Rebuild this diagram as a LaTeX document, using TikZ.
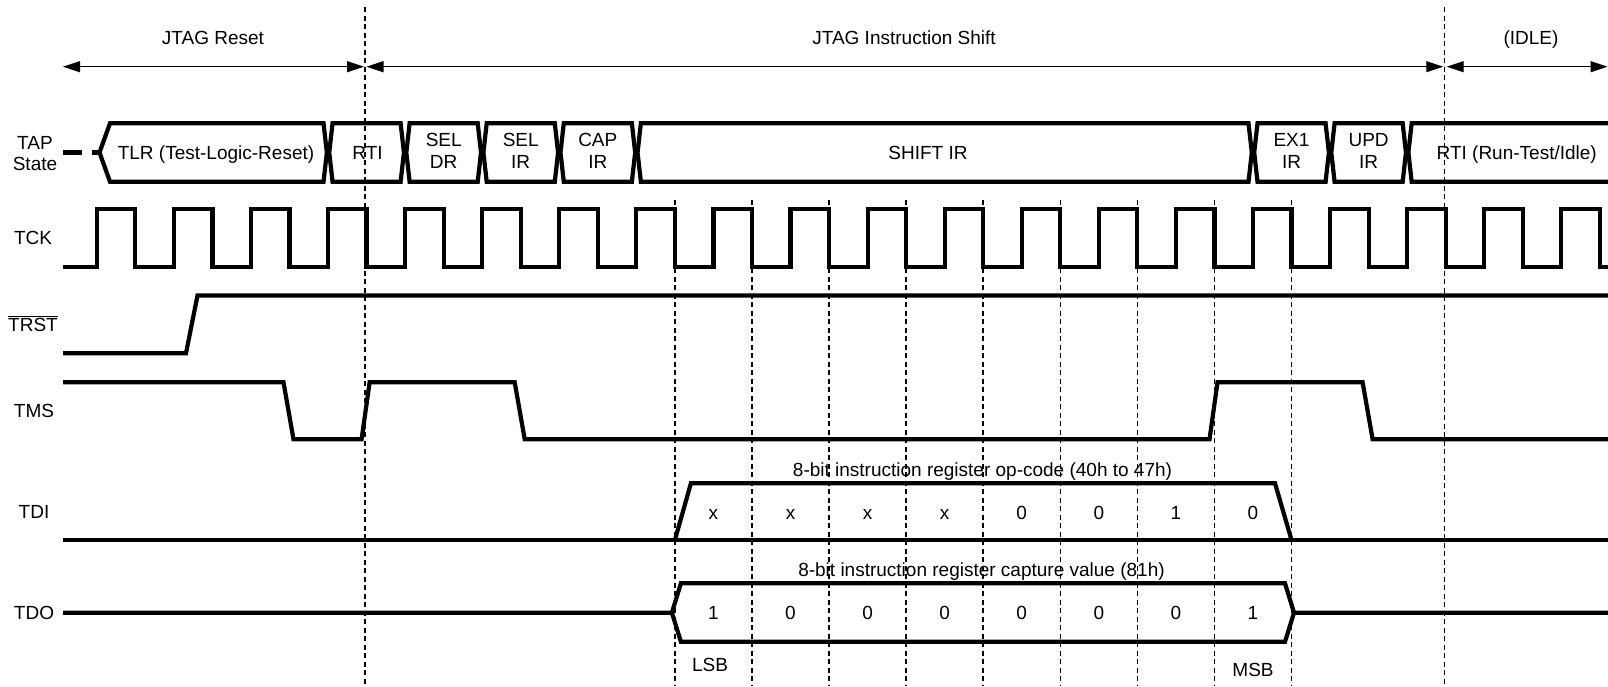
\documentclass[tikz,border=0pt]{standalone}
\usepackage{fontspec}
\setmainfont{Liberation Sans}
\usetikzlibrary{arrows.meta}
\begin{document}
\begin{tikzpicture}[x=1pt,y=-1pt,
  sig/.style={line width=4.2pt, line join=miter, miter limit=2},
  gridline/.style={line width=1.5pt, dash pattern=on 5pt off 3.5pt},
  span/.style={line width=1.3pt, {Triangle[length=17pt,width=11pt]}-{Triangle[length=17pt,width=11pt]}},
  lbl/.style={inner sep=0pt, text height=13.7pt, text depth=0pt},
  lbltwo/.style={inner sep=0pt, align=center},
  every node/.style={font=\fontsize{19pt}{21.5pt}\selectfont}]
\useasboundingbox (0,0) rectangle (1608,686);

% ---- phase arrows ----
\coordinate (a1l) at (63,66.7);   \coordinate (a1r) at (364,66.7);
\coordinate (a2l) at (366.5,66.7); \coordinate (a2r) at (1443.3,66.7);
\coordinate (a3l) at (1446.7,66.7); \coordinate (a3r) at (1607.5,66.7);
\draw[span] (a1l) -- (a1r);
\draw[span] (a2l) -- (a2r);
\draw[span] (a3l) -- (a3r);
\node[lbl] (hreset) at (213,38) {JTAG Reset};
\node[lbl] (hshift) at (904,38) {JTAG Instruction Shift};
\node[lbl] (hidle) at (1531,38) {(IDLE)};

% ---- dashed guide lines ----
\draw[gridline] (365,7) -- (365,686);
\draw[gridline] (1444.5,7) -- (1444.5,686);
\foreach \x in {674.90,751.98,829.06,906.14,983.22,1060.30,1137.38,1214.46,1291.54}
  \draw[gridline] (\x,200) -- (\x,686);

% ---- signal names ----
\node[lbltwo] (ntap) at (35,153.5) {TAP\\State};
\node[lbl] (ntck) at (33,238) {TCK};
\node[lbl] (ntrst) at (33,324.5) {$\overline{\mbox{TRST}}$};
\node[lbl] (ntms) at (34,410.8) {TMS};
\node[lbl] (ntdi) at (34,511.7) {TDI};
\node[lbl] (ntdo) at (34,612.7) {TDO};

% ---- TAP state ----
\draw[sig, dash pattern=on 19pt off 10pt] (63,152.5) -- (99.5,152.5);
\draw[sig] (99.5,152.5) -- (110,123.3) -- (323.54,123.3) -- (326.84,152.5) -- (323.54,181.7) -- (110,181.7) -- cycle;
\node[lbl] (tlr) at (216,152.5) {TLR (Test-Logic-Reset)};
\draw[sig] (329.24,152.5) -- (332.54,123.3) -- (400.62,123.3) -- (403.92,152.5) -- (400.62,181.7) -- (332.54,181.7) -- cycle;
\node[lbl] (rti) at (367.5,152.5) {RTI};
\draw[sig] (406.32,152.5) -- (409.62,123.3) -- (477.70,123.3) -- (481.00,152.5) -- (477.70,181.7) -- (409.62,181.7) -- cycle;
\node[lbltwo] (seldr) at (443.7,151) {SEL\\DR};
\draw[sig] (483.40,152.5) -- (486.70,123.3) -- (554.78,123.3) -- (558.08,152.5) -- (554.78,181.7) -- (486.70,181.7) -- cycle;
\node[lbltwo] (selir) at (520.7,151) {SEL\\IR};
\draw[sig] (560.48,152.5) -- (563.78,123.3) -- (631.86,123.3) -- (635.16,152.5) -- (631.86,181.7) -- (563.78,181.7) -- cycle;
\node[lbltwo] (capir) at (597.8,151) {CAP\\IR};
\draw[sig] (637.56,152.5) -- (640.86,123.3) -- (1248.50,123.3) -- (1251.80,152.5) -- (1248.50,181.7) -- (640.86,181.7) -- cycle;
\node[lbl] (shiftir) at (928,152.5) {SHIFT IR};
\draw[sig] (1254.20,152.5) -- (1257.50,123.3) -- (1325.58,123.3) -- (1328.88,152.5) -- (1325.58,181.7) -- (1257.50,181.7) -- cycle;
\node[lbltwo] (ex1ir) at (1291.5,151) {EX1\\IR};
\draw[sig] (1331.28,152.5) -- (1334.58,123.3) -- (1402.66,123.3) -- (1405.96,152.5) -- (1402.66,181.7) -- (1334.58,181.7) -- cycle;
\node[lbltwo] (updir) at (1368.6,151) {UPD\\IR};
\draw[sig] (1608,123.3) -- (1411.66,123.3) -- (1408.36,152.5) -- (1411.66,181.7) -- (1608,181.7);
\node[lbl] (rtiidle) at (1516.7,152.5) {RTI (Run-Test/Idle)};

% ---- TCK ----
\draw[sig] (63,267) foreach \n in {0,...,19} {
  -- ({96.8+77.08*\n},267) -- ({96.8+77.08*\n},209)
  -- ({135.34+77.08*\n},209) -- ({135.34+77.08*\n},267) } -- (1608,267);

% ---- TRST ----
\draw[sig] (63,353.3) -- (186,353.3) -- (197.5,295.5) -- (1608,295.5);

% ---- TMS ----
\draw[sig] (63,382.3) -- (283.5,382.3) -- (293.5,439.3) -- (361.6,439.3) -- (369.6,382.3)
  -- (514.7,382.3) -- (524.7,439.3) -- (1209.5,439.3) -- (1217.5,382.3)
  -- (1362.6,382.3) -- (1372.6,439.3) -- (1608,439.3);

% ---- TDI ----
\draw[sig] (63,540) -- (1608,540);
\draw[sig] (674.9,540) -- (690.9,483.3) -- (1275.0,483.3) -- (1291.5,540);
\node[lbl] (tdihead) at (982.5,469.3) {8-bit instruction register op-code (40h to 47h)};
\foreach \x/\b [count=\i] in {713.44/x,790.52/x,867.6/x,944.68/x,1021.76/0,1098.84/0,1175.92/1,1253.0/0}
  \node[lbl] (tdib\i) at (\x,512.7) {\b};

% ---- TDO ----
\draw[sig] (63,612.7) -- (671.9,612.7) -- (680.9,583.3) -- (1285.0,583.3) -- (1294.0,612.7) -- (1608,612.7);
\draw[sig] (671.9,612.7) -- (680.9,641.7) -- (1285.0,641.7) -- (1294.0,612.7);
\node[lbl] (tdohead) at (981.5,570) {8-bit instruction register capture value (81h)};
\foreach \x/\b [count=\i] in {713.44/1,790.52/0,867.6/0,944.68/0,1021.76/0,1098.84/0,1175.92/0,1253.0/1}
  \node[lbl] (tdob\i) at (\x,612.7) {\b};
\node[lbl] (lsb) at (710,665) {LSB};
\node[lbl] (msb) at (1253,670) {MSB};
\end{tikzpicture}
\end{document}
